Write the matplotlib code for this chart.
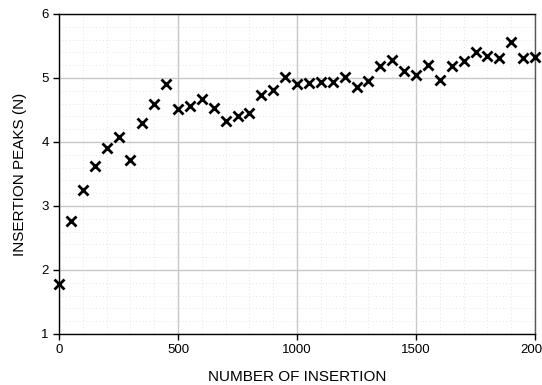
import matplotlib
matplotlib.use("Agg")
import matplotlib.pyplot as plt
from matplotlib.ticker import MultipleLocator

plt.rcParams['font.family'] = ['Liberation Sans', 'DejaVu Sans']

# insertion count and measured peak force
insertions = list(range(0, 2001, 50))
peaks = [1.78, 2.76, 3.25, 3.62, 3.90, 4.08, 3.72, 4.29, 4.59, 4.91,
         4.52, 4.57, 4.67, 4.53, 4.33, 4.41, 4.46, 4.74, 4.81, 5.02,
         4.90, 4.92, 4.93, 4.94, 5.02, 4.86, 4.96, 5.19, 5.28, 5.11,
         5.04, 5.20, 4.97, 5.19, 5.27, 5.41, 5.34, 5.32, 5.57, 5.32,
         5.33]

fig = plt.figure(figsize=(5.42, 3.85), dpi=100)
ax = fig.add_axes([59 / 542, 1 - 334 / 385, 476 / 542, 320 / 385])

ax.plot(insertions, peaks, linestyle='none', marker='x', color='black',
        markersize=6.5, markeredgewidth=2.0, clip_on=False, zorder=3)

ax.set_xlim(0, 2000)
ax.set_ylim(1, 6)
ax.xaxis.set_major_locator(MultipleLocator(500))
ax.xaxis.set_minor_locator(MultipleLocator(100))
ax.yaxis.set_major_locator(MultipleLocator(1))
ax.yaxis.set_minor_locator(MultipleLocator(0.2))

ax.grid(which='major', color='#c8c8c8', linewidth=1.0)
ax.grid(which='minor', color='#dcdcdc', linewidth=0.6, linestyle=(0, (1, 3)))
ax.set_axisbelow(True)

ax.tick_params(which='major', direction='out', length=4, width=1, labelsize=9.5,
               colors='black')
ax.tick_params(which='minor', length=0)
for s in ax.spines.values():
    s.set_color('black')
    s.set_linewidth(1.0)
ax.spines['right'].set_color('#555555')

ax.set_xlabel('NUMBER OF INSERTION', fontsize=11, labelpad=10)
ax.set_ylabel('INSERTION PEAKS (N)', fontsize=11, labelpad=10)

fig.savefig('out.png', dpi=100)
